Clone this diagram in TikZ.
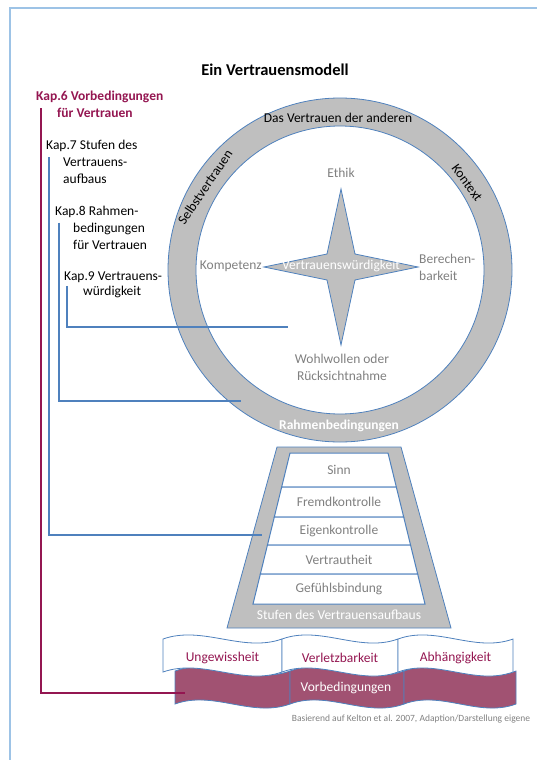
\documentclass[tikz,border=0pt]{standalone}
\usepackage{fontspec}
\setmainfont{Carlito}
\usetikzlibrary{positioning}
\definecolor{ringgray}{RGB}{191,191,191}
\definecolor{lineblue}{RGB}{79,129,189}
\definecolor{pageblue}{RGB}{157,195,230}
\definecolor{kapred}{RGB}{148,22,81}
\definecolor{bannerred}{RGB}{161,82,114}
\definecolor{labelgray}{RGB}{128,128,128}
\begin{document}
\begin{tikzpicture}[x=1pt,y=-1pt,
        every node/.style={inner sep=0pt, font=\fontsize{13.5}{17}\selectfont},
        kap/.style={anchor=west, align=left},
        kaphead/.style={kap, text=kapred, font=\bfseries\fontsize{13.5}{17}\selectfont},
        kapline/.style={draw=lineblue, line width=1.3pt},
        kapredline/.style={draw=kapred, line width=1.3pt},
        grayshape/.style={fill=ringgray, draw=lineblue, line width=0.8pt},
        graylabel/.style={text=labelgray, align=center},
        whitelabel/.style={text=white, align=center},
        stepbox/.style={fill=white, draw=lineblue, line width=1pt},
        whitebanner/.style={fill=white, draw=lineblue, line width=0.8pt},
        redbanner/.style={fill=bannerred, draw=lineblue, line width=0.8pt},
    ]
    \useasboundingbox (0,0) rectangle (537,760);
    % page frame
    \draw[pageblue, line width=1.6pt] (537,8) -- (10,8) -- (10,760);
    \node[font=\bfseries\fontsize{16.5}{20}\selectfont] (title) at (275,70) {Ein Vertrauensmodell};

    % ring
    \coordinate (mid) at (340,270);
    \path[grayshape, even odd rule] (mid) circle (172) (mid) circle (144);
    \node (anderen) at (338,118) {Das Vertrauen der anderen};
    \node[rotate=56] (selbst) at (205,187) {Selbstvertrauen};
    \node[rotate=-54] (kontext) at (467,183) {Kontext};
    \node[whitelabel, font=\bfseries\fontsize{13.5}{17}\selectfont] (rahmen) at (339,426) {Rahmenbedingungen};

    % star
    \draw[grayshape] (341,189) -- (355,254) -- (418,267) -- (355,280) -- (341,345)
        -- (327,280) -- (264,267) -- (327,254) -- cycle;
    \node[whitelabel] (wuerdig) at (341,266) {Vertrauenswürdigkeit};
    \node[graylabel] (ethik) at (341,173) {Ethik};
    \node[graylabel, anchor=east] (kompetenz) at (262,266) {Kompetenz};
    \node[graylabel, anchor=west, align=left] (berechen) at (419,267) {Berechen-\\barkeit};
    \node[graylabel] (wohl) at (342,367) {Wohlwollen oder\\Rücksichtnahme};

    % stufen
    \draw[grayshape] (277,447) -- (401,447) -- (451,628) -- (227,628) -- cycle;
    \foreach \t/\b/\txt in {453/487/Sinn, 487/517/Fremdkontrolle, 517/545/Eigenkontrolle,
        545/574/Vertrautheit, 574/604/Gefühlsbindung}{
        \draw[stepbox] ({290-0.245*(\t-453)},\t) -- ({388+0.245*(\t-453)},\t)
            -- ({388+0.245*(\b-453)},\b) -- ({290-0.245*(\b-453)},\b) -- cycle;
        \node[graylabel] at (339,{(\t+\b)/2}) {\txt};
    }
    \node[whitelabel] (stufen) at (339,615) {Stufen des Vertrauensaufbaus};

    % vorbedingungen
    \foreach \a/\b in {175/290, 290/404, 404/516}{
        \path[redbanner] (\a,671) .. controls ({\a+(\b-\a)/3},657) and ({\a+2*(\b-\a)/3},685) .. (\b,671)
            -- (\b,704) .. controls ({\a+2*(\b-\a)/3},718) and ({\a+(\b-\a)/3},690) .. (\a,704) -- cycle;
    }
    \foreach \a/\b/\txt in {163/282/Ungewissheit, 282/398/Verletzbarkeit, 398/513/Abhängigkeit}{
        \path[whitebanner] (\a,639) .. controls ({\a+(\b-\a)/3},625) and ({\a+2*(\b-\a)/3},653) .. (\b,639)
            -- (\b,672) .. controls ({\a+2*(\b-\a)/3},686) and ({\a+(\b-\a)/3},658) .. (\a,672) -- cycle;
        \node[text=kapred] at ({(\a+\b)/2},658) {\txt};
    }
    \node[whitelabel] (vorbed) at (346,688) {Vorbedingungen};
    \node[text=labelgray, font=\fontsize{9.5}{11}\selectfont] (quelle) at (411,719)
        {Basierend auf Kelton et al. 2007, Adaption/Darstellung eigene};

    % kapitel
    \node[kaphead] (kap6) at (36,97) {Kap.6 Vorbedingungen};
    \node[kaphead] (kap6b) at (57,113) {für Vertrauen};
    \node[kap] (kap7) at (46,146) {Kap.7 Stufen des};
    \node[kap] (kap7b) at (63,170.5) {Vertrauens-\\aufbaus};
    \node[kap] (kap8) at (55,212) {Kap.8 Rahmen-};
    \node[kap] (kap8b) at (73,236) {bedingungen\\für Vertrauen};
    \node[kap] (kap9) at (64,277) {Kap.9 Vertrauens-};
    \node[kap] (kap9b) at (83,292) {würdigkeit};

    \coordinate (kap6end) at (185,693);
    \coordinate (kap7end) at (262,535);
    \coordinate (kap8end) at (241,401);
    \coordinate (kap9end) at (288,327);
    \draw[kapredline] (kap6.west |- kap6b.north) ++(5,0) |- (kap6end);
    \draw[kapline] (kap7.west |- kap7b.north) ++(3,0) |- (kap7end);
    \draw[kapline] (kap8.west |- kap8b.north) ++(4,0) |- (kap8end);
    \draw[kapline] (kap9.west |- kap9b.north) ++(3,0) |- (kap9end);
\end{tikzpicture}
\end{document}
